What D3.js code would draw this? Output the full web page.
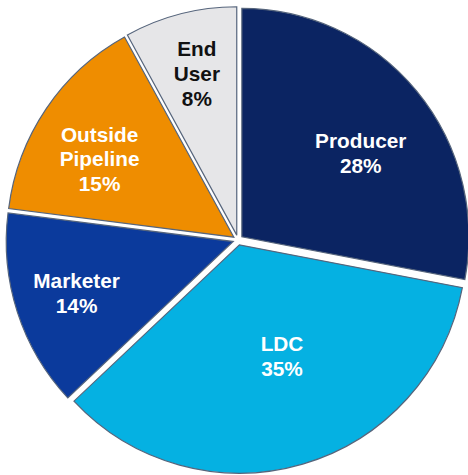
<!DOCTYPE html>
<html>
<head>
<meta charset="utf-8">
<script src="https://cdn.jsdelivr.net/npm/d3@7"></script>
<style>
  html, body { margin: 0; padding: 0; background: #ffffff; }
  svg { display: block; }
</style>
</head>
<body>
<svg id="chart" width="468" height="475"></svg>
<script>
// ---- data ----
const categories = ["Producer", "LDC", "Marketer", "Outside Pipeline", "End User"];
const values = [28, 35, 14, 15, 8];
const labelLines = [["Producer", "28%"], ["LDC", "35%"], ["Marketer", "14%"], ["Outside", "Pipeline", "15%"], ["End", "User", "8%"]];

// ---- styling / layout ----
const colors = ["#0b2462", "#05b1e2", "#0b3a9c", "#ef8d00", "#e6e6e8"];
const textColors = ["#ffffff", "#ffffff", "#ffffff", "#ffffff", "#111111"];
const labelRadius = [150, 124, 170, 160, 170];
const labelAngleShift = [4.5, -4.6, -0.3, -4.1, 0.4]; // degrees

const cx = 238, cy = 240, R = 227, explode = 5;
const svg = d3.select("#chart");
const g = svg.append("g").attr("transform", `translate(${cx},${cy}) scale(1,1.006)`);

const pie = d3.pie().sort(null).value(d => d.v);
const arcs = pie(categories.map((c, i) => ({ c, v: values[i], i })));
const arc = d3.arc().innerRadius(0).outerRadius(R);

arcs.forEach((a, i) => {
  const mid = (a.startAngle + a.endAngle) / 2;
  const ox = explode * Math.sin(mid), oy = -explode * Math.cos(mid);
  g.append("path")
    .attr("d", arc(a))
    .attr("transform", `translate(${ox},${oy})`)
    .attr("fill", colors[i])
    .attr("stroke", "#56657c")
    .attr("stroke-width", 1.2)
    .attr("stroke-linejoin", "miter");
});

const lh = 24.5;
arcs.forEach((a, i) => {
  const mid = (a.startAngle + a.endAngle) / 2 + labelAngleShift[i] * Math.PI / 180;
  const r = labelRadius[i];
  const x = r * Math.sin(mid), y = -r * Math.cos(mid);
  const lines = labelLines[i];
  const t = g.append("text")
    .attr("text-anchor", "middle")
    .attr("font-family", "Liberation Sans, Arial, sans-serif")
    .attr("font-weight", "bold")
    .attr("font-size", 20.8)
    .attr("fill", textColors[i]);
  lines.forEach((ln, k) => {
    t.append("tspan")
      .attr("x", x)
      .attr("y", y + (k - (lines.length - 1) / 2) * lh + 7)
      .text(ln);
  });
});
</script>
</body>
</html>
